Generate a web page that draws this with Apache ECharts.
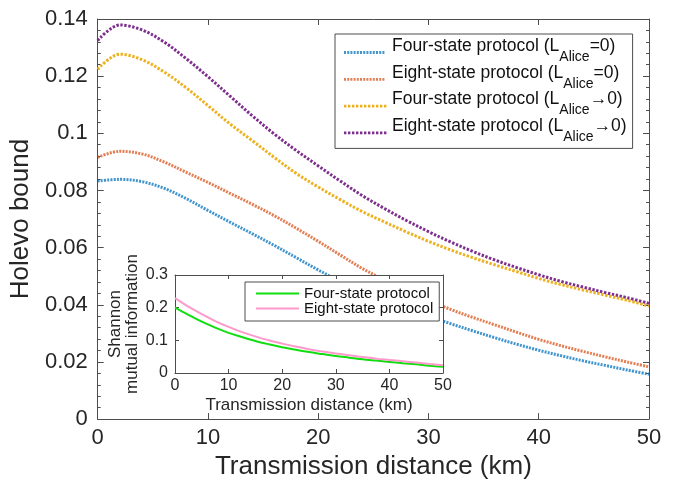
<!DOCTYPE html>
<html>
<head>
<meta charset="utf-8">
<title>Holevo bound vs transmission distance</title>
<script src="https://cdn.jsdelivr.net/npm/echarts@6/dist/echarts.min.js"></script>
<style>
  html, body { margin: 0; padding: 0; background: #fff; }
  #chart { width: 685px; height: 485px; }
</style>
</head>
<body>
<div id="chart"></div>
<script>
// Transmission distance (km) for the Holevo bound curves
const distance = [0, 2, 4, 6, 8, 10, 12, 14, 16, 18, 20, 22, 24, 26, 28, 30, 32, 34, 36, 38, 40, 42, 44, 46, 48, 50];

// Holevo bound, L_Alice = 0
const fourStateZero = [0.0833, 0.0839, 0.0831, 0.0808, 0.0772, 0.0730, 0.0689, 0.0649, 0.0608, 0.0565, 0.0522, 0.0482, 0.0447, 0.0416, 0.0387, 0.0360, 0.0334, 0.0309, 0.0285, 0.0262, 0.0241, 0.0222, 0.0204, 0.0188, 0.0172, 0.0157];
const eightStateZero = [0.0916, 0.0937, 0.0928, 0.0900, 0.0864, 0.0828, 0.0790, 0.0752, 0.0712, 0.0668, 0.0622, 0.0574, 0.0527, 0.0487, 0.0451, 0.0416, 0.0384, 0.0356, 0.0330, 0.0304, 0.0279, 0.0257, 0.0237, 0.0218, 0.0200, 0.0183];

// Holevo bound, L_Alice -> 0
const fourStateLimit = [0.1224, 0.1277, 0.1258, 0.1215, 0.1160, 0.1097, 0.1033, 0.0975, 0.0916, 0.0860, 0.0812, 0.0768, 0.0726, 0.0690, 0.0655, 0.0622, 0.0592, 0.0565, 0.0540, 0.0516, 0.0492, 0.0471, 0.0452, 0.0434, 0.0416, 0.0396];
const eightStateLimit = [0.1325, 0.1379, 0.1362, 0.1320, 0.1262, 0.1198, 0.1130, 0.1062, 0.0998, 0.0940, 0.0886, 0.0833, 0.0782, 0.0737, 0.0695, 0.0656, 0.0620, 0.0587, 0.0557, 0.0530, 0.0505, 0.0482, 0.0462, 0.0443, 0.0425, 0.0405];

// Inset: Shannon mutual information
const insetDistance = [0, 2.5, 5, 7.5, 10, 12.5, 15, 17.5, 20, 22.5, 25, 27.5, 30, 32.5, 35, 37.5, 40, 42.5, 45, 47.5, 50];
const shannonFour = [0.200, 0.178, 0.157, 0.139, 0.123, 0.110, 0.098, 0.088, 0.079, 0.071, 0.064, 0.058, 0.052, 0.047, 0.042, 0.038, 0.034, 0.030, 0.0265, 0.0225, 0.0195];
const shannonEight = [0.229, 0.203, 0.180, 0.159, 0.141, 0.125, 0.112, 0.100, 0.090, 0.081, 0.073, 0.066, 0.060, 0.054, 0.049, 0.044, 0.040, 0.036, 0.032, 0.0275, 0.0235];

// Tick settings
const mainXTicks = { min: 0, max: 50, interval: 10 };
const mainYTicks = { min: 0, max: 0.14, interval: 0.02 };
const insetYTicks = { min: 0, max: 0.3, interval: 0.1 };

const FONT = '"Liberation Sans", Arial, Helvetica, sans-serif';
const TEXT = '#262626';
const FRAME = '#4d4d4d';

const pairs = (xs, ys) => xs.map((x, i) => [x, ys[i]]);
const fmt = v => String(+v.toFixed(2));

function frameAxis(extra) {
  return Object.assign({
    type: 'value',
    axisLine: { show: true, onZero: false, lineStyle: { color: FRAME, width: 1 } },
    axisTick: { show: true, inside: true, length: 6, lineStyle: { color: FRAME } },
    splitLine: { show: false }
  }, extra);
}

const NAMES = [
  'Four-state protocol (LAlice=0)',
  'Eight-state protocol (LAlice=0)',
  'Four-state protocol (LAlice\u21920)',
  'Eight-state protocol (LAlice\u21920)'
];

// "L" with a lowered "Alice" subscript
const legendLabel = n => {
  const [head, tail] = n.split('LAlice');
  return '{m|' + head + 'L}{s|Alice}{m|' + tail + '}';
};

// Dotted legend key, drawn a little below the text centre (43 x 30 box)
const KEY_W = 43, KEY_H = 30, KEY_Y = 13.6, KEY_T = 2.8;
function dottedKey(dash, gap) {
  let p = 'path://M0,0h0.02v0.02h-0.02z M' + (KEY_W - 0.02) + ',' + (KEY_H - 0.02) + 'h0.02v0.02h-0.02z';
  for (let x = 0; x + dash <= KEY_W + 0.01; x += dash + gap) {
    p += ' M' + x.toFixed(2) + ',' + KEY_Y + 'h' + dash + 'v' + KEY_T + 'h' + (-dash) + 'z';
  }
  return p;
}

const chart = echarts.init(document.getElementById('chart'), null, { renderer: 'canvas' });

const mainLine = (name, color, values, dash, opacity) => ({
  name, type: 'line', xAxisIndex: 0, yAxisIndex: 0,
  data: pairs(distance, values),
  symbol: 'none', smooth: 0.35, z: 2,
  lineStyle: { color, width: 3, type: dash, cap: 'butt', opacity },
  itemStyle: { color, opacity }
});

const insetLine = (name, color, values) => ({
  name, type: 'line', xAxisIndex: 2, yAxisIndex: 2,
  data: pairs(insetDistance, values),
  symbol: 'none', smooth: 0.35, z: 8,
  lineStyle: { color, width: 2 },
  itemStyle: { color }
});

const fineDots = dottedKey(2, 1.2);
const coarseDots = dottedKey(2.4, 1.6);

chart.setOption({
  animation: false,
  backgroundColor: '#fff',
  textStyle: { fontFamily: FONT, color: TEXT },
  grid: [
    { left: 97, top: 19, right: 36, bottom: 60, show: false },
    { left: 175, top: 275, right: 242, bottom: 112, show: true, backgroundColor: '#fff', borderWidth: 0, z: 5 }
  ],
  xAxis: [
    frameAxis(Object.assign({ gridIndex: 0, position: 'bottom',
      name: 'Transmission distance (km)', nameLocation: 'middle', nameGap: 31,
      nameTextStyle: { fontSize: 26, color: TEXT, fontFamily: FONT },
      axisLabel: { fontSize: 22, color: TEXT, margin: 8, fontFamily: FONT }
    }, mainXTicks)),
    frameAxis(Object.assign({ gridIndex: 0, position: 'top', axisLabel: { show: false } }, mainXTicks)),
    frameAxis(Object.assign({ gridIndex: 1, position: 'bottom', z: 6,
      name: 'Transmission distance (km)', nameLocation: 'middle', nameGap: 24,
      nameTextStyle: { fontSize: 17, color: TEXT, fontFamily: FONT },
      axisTick: { show: true, inside: true, length: 4, lineStyle: { color: FRAME } },
      axisLabel: { fontSize: 16, color: TEXT, margin: 5, fontFamily: FONT }
    }, mainXTicks)),
    frameAxis(Object.assign({ gridIndex: 1, position: 'top', z: 6,
      axisTick: { show: true, inside: true, length: 4, lineStyle: { color: FRAME } },
      axisLabel: { show: false } }, mainXTicks))
  ],
  yAxis: [
    frameAxis(Object.assign({ gridIndex: 0, position: 'left',
      name: 'Holevo bound', nameLocation: 'middle', nameGap: 56,
      nameTextStyle: { fontSize: 26, color: TEXT, fontFamily: FONT },
      minorTick: { show: true, splitNumber: 5, length: 3, lineStyle: { color: FRAME } },
      axisLabel: { fontSize: 22, color: TEXT, margin: 10, formatter: fmt, fontFamily: FONT }
    }, mainYTicks)),
    frameAxis(Object.assign({ gridIndex: 0, position: 'right',
      minorTick: { show: true, splitNumber: 5, length: 3, lineStyle: { color: FRAME } },
      axisLabel: { show: false } }, mainYTicks)),
    frameAxis(Object.assign({ gridIndex: 1, position: 'left', z: 6,
      name: 'Shannon\nmutual information', nameLocation: 'middle', nameGap: 34,
      nameTextStyle: { fontSize: 17, color: TEXT, lineHeight: 17, fontFamily: FONT },
      axisTick: { show: true, inside: true, length: 4, lineStyle: { color: FRAME } },
      axisLabel: { fontSize: 16, color: TEXT, margin: 7, formatter: fmt, fontFamily: FONT }
    }, insetYTicks)),
    frameAxis(Object.assign({ gridIndex: 1, position: 'right', z: 6,
      axisTick: { show: true, inside: true, length: 4, lineStyle: { color: FRAME } },
      axisLabel: { show: false } }, insetYTicks))
  ],
  legend: [
    {
      data: [
        { name: NAMES[0], icon: fineDots },
        { name: NAMES[1], icon: fineDots },
        { name: NAMES[2], icon: coarseDots },
        { name: NAMES[3], icon: coarseDots }
      ],
      orient: 'vertical', left: 335, top: 34,
      backgroundColor: '#fff', borderColor: FRAME, borderWidth: 1, borderRadius: 0,
      padding: [3, 6, 0, 9], itemGap: -4.2, itemWidth: KEY_W, itemHeight: KEY_H,
      symbolKeepAspect: false,
      itemStyle: { borderWidth: 0 },
      formatter: legendLabel,
      textStyle: {
        fontSize: 17.5, color: '#111', fontFamily: FONT,
        rich: {
          m: { fontSize: 17.5, color: '#111', fontFamily: FONT, lineHeight: 10, padding: [0, 0, 13, 0] },
          s: { fontSize: 14, color: '#111', fontFamily: FONT, lineHeight: 14, padding: [9, 0, 0, 0] }
        }
      },
      z: 4
    },
    {
      data: ['Four-state protocol', 'Eight-state protocol'],
      orient: 'vertical', left: 245, top: 282,
      backgroundColor: '#fff', borderColor: FRAME, borderWidth: 1, borderRadius: 0,
      padding: [4, 6, 5, 10], itemGap: 0, itemWidth: 43, itemHeight: 3,
      itemStyle: { opacity: 0 },
      textStyle: { fontSize: 15, lineHeight: 15, color: '#111', fontFamily: FONT },
      z: 9
    }
  ],
  series: [
    mainLine(NAMES[0], '#0072BD', fourStateZero, [2, 1.2], 0.75),
    mainLine(NAMES[1], '#D95319', eightStateZero, [2, 1.2], 0.75),
    mainLine(NAMES[2], '#EDB120', fourStateLimit, [2.4, 1.6], 1),
    mainLine(NAMES[3], '#7E2F8E', eightStateLimit, [2.4, 1.6], 1),
    insetLine('Four-state protocol', '#11dd11', shannonFour),
    insetLine('Eight-state protocol', '#ff99cc', shannonEight)
  ]
});
</script>
</body>
</html>
